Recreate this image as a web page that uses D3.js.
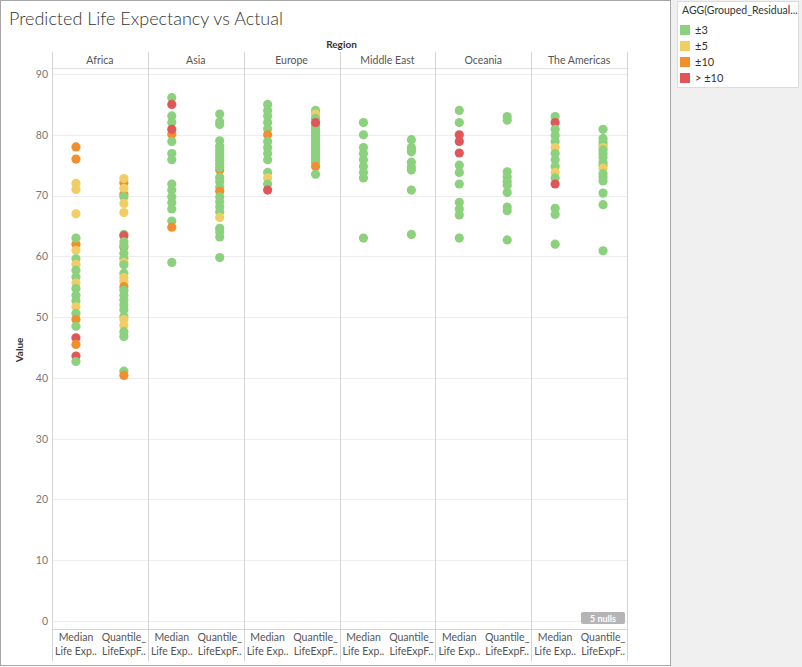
<!DOCTYPE html>
<html>
<head>
<meta charset="utf-8">
<script src="https://cdn.jsdelivr.net/npm/d3@7"></script>
<style>
  body { margin: 0; background: #fff; }
  svg { display: block; font-family: Lato, "Open Sans", sans-serif; }
</style>
</head>
<body>
<svg id="chart" width="802" height="667"></svg>
<script>
// groups: 0 = ±3, 1 = ±5, 2 = ±10, 3 = > ±10
const groups = ["±3", "±5", "±10", "> ±10"];
const groupColors = ["#8cd17d", "#f1ce63", "#f28e2b", "#e15759"];

const regions = ["Africa", "Asia", "Europe", "Middle East", "Oceania", "The Americas"];
const measures = ["Median", "Quantile"];
const measureLabels = [["Median", "Life Exp.."], ["Quantile_", "LifeExpF.."]];
const yTicks = [0, 10, 20, 30, 40, 50, 60, 70, 80, 90];

// [value, group]
const africaMedian = [[78,2],[76,2],[72,1],[71,1],[67,1],[62,2],[63,0],[61,1],[59.6,0],[58.7,1],[57.7,0],
  [56.6,0],[55.6,1],[54.7,0],[53.6,0],[52.7,0],[51.7,1],[50.6,0],[49.6,2],[48.5,0],[46.6,3],[45.5,2],[43.6,3],[42.7,0]];
const africaQuantile = [[72.1,2],[72.8,1],[70.2,2],[71.2,1],[69.8,0],[68.7,1],[67.2,1],[63.6,0],[63.4,3],[62.4,0],
  [61.5,2],[61.8,0],[60.5,0],[59.7,0],[59,1],[58.6,0],[57.2,0],[56.5,1],[55.8,1],[55,2],[54.4,0],[53.6,0],[52.8,0],
  [52,0],[51.2,0],[50.1,0],[49.6,1],[48.6,1],[47.6,0],[46.8,0],[41.1,0],[40.4,2]];
const asiaMedian = [[86.1,0],[85,3],[83.1,0],[82,0],[80.1,2],[80.9,3],[78.9,0],[76.9,0],[75.9,0],[71.9,0],[70.9,0],
  [69.8,0],[68.8,0],[67.8,0],[65.8,0],[64.8,2],[59,0]];
const asiaQuantile = [[83.4,0],[82.1,0],[81.7,0],[79,0],[78.1,0],[77.5,0],[76.9,0],[76.4,0],[75.8,0],[75.2,0],
  [74.2,2],[74.6,0],[73,0],[72.3,0],[71.4,0],[70.7,2],[69.8,0],[69,0],[68.1,0],[67.3,0],[66.4,1],[64.6,0],[64,0],
  [63.2,0],[59.8,0]];
const europeMedian = [[85,0],[84,0],[83.1,0],[82,0],[81,0],[80,2],[78.9,0],[77.9,0],[76.9,0],[75.9,0],[73.8,0],
  [72.9,1],[71.9,0],[70.9,3]];
const europeQuantile = [[84,0],[83.4,1],[82.7,0],[81.5,0],[81,0],[80.5,0],[80,0],[79.5,0],[79,0],[78.5,0],[78,0],
  [77.5,0],[77,0],[76.5,0],[76,0],[75.5,0],[82,3],[74.8,2],[73.5,0]];
const middleEastMedian = [[82,0],[80,0],[77.9,0],[76.9,0],[75.9,0],[74.8,0],[73.8,0],[72.9,0],[63,0]];
const middleEastQuantile = [[79.2,0],[77.9,0],[77.5,0],[77.2,0],[75.5,0],[74.7,0],[74.2,0],[70.9,0],[63.6,0]];
const oceaniaMedian = [[84,0],[82,0],[80,3],[78.9,3],[77,3],[75,0],[73.8,0],[71.9,0],[68.9,0],[67.8,0],[66.8,0],[63,0]];
const oceaniaQuantile = [[83,0],[82.4,0],[73.9,0],[73.1,0],[72.3,0],[71.7,0],[70.5,0],[68.1,0],[67.5,0],[62.7,0]];
const americasMedian = [[83,0],[82,3],[80.9,0],[79.9,0],[78.9,0],[77.9,1],[76.9,0],[75.9,0],[74.8,0],[73.8,1],
  [72.9,0],[71.9,3],[67.9,0],[66.9,0],[62,0]];
const americasQuantile = [[80.9,0],[79.4,0],[78.8,0],[78.3,0],[77.9,1],[77.5,0],[76.9,0],[76.3,0],[75.5,0],[75,0],
  [74.5,1],[73.6,0],[73,0],[72.4,0],[70.4,0],[68.5,0],[60.9,0]];

const columns = [
  ["Africa", africaMedian, africaQuantile],
  ["Asia", asiaMedian, asiaQuantile],
  ["Europe", europeMedian, europeQuantile],
  ["Middle East", middleEastMedian, middleEastQuantile],
  ["Oceania", oceaniaMedian, oceaniaQuantile],
  ["The Americas", americasMedian, americasQuantile]
];

const svg = d3.select("#chart");

const left = 52, right = 627;
const plotTop = 68, plotBottom = 629;

const x = d3.scaleBand().domain(regions).range([left, right]);
const xi = d3.scaleBand().domain(measures).range([0, x.bandwidth()]);
const y = d3.scaleLinear().domain([0, 90]).range([621, 74]);

// legend panel background
svg.append("rect").attr("x", 670).attr("y", 0).attr("width", 132).attr("height", 667).attr("fill", "#f0f0f0");
svg.append("rect").attr("x", 0.5).attr("y", 0.5).attr("width", 670).attr("height", 665)
  .attr("fill", "#fff").attr("stroke", "#a6a6a6");

// title
svg.append("text").attr("x", 9).attr("y", 25).attr("fill", "#333").attr("font-size", 18)
  .attr("font-weight", 300).text("Predicted Life Expectancy vs Actual");

svg.append("text").attr("x", (left + right) / 2 + 2).attr("y", 48).attr("text-anchor", "middle")
  .attr("font-size", 10).attr("font-weight", 700).attr("fill", "#333").text("Region");

// gridlines
svg.append("g").selectAll("line").data(yTicks).join("line")
  .attr("x1", left).attr("x2", right)
  .attr("y1", d => Math.round(y(d)) + 0.5).attr("y2", d => Math.round(y(d)) + 0.5)
  .attr("stroke", "#ededed");

svg.append("line").attr("x1", left).attr("x2", right).attr("y1", plotTop + 0.5).attr("y2", plotTop + 0.5)
  .attr("stroke", "#e0e0e0");
svg.append("line").attr("x1", left).attr("x2", right).attr("y1", plotBottom + 0.5).attr("y2", plotBottom + 0.5)
  .attr("stroke", "#d4d4d4");

// panel separators
svg.append("g").selectAll("line").data(regions.map(r => x(r)).concat([right])).join("line")
  .attr("x1", d => Math.round(d) + 0.5).attr("x2", d => Math.round(d) + 0.5)
  .attr("y1", 52).attr("y2", 661)
  .attr("stroke", "#d4d4d4");

// region headers
svg.append("g").selectAll("text").data(regions).join("text")
  .attr("x", d => x(d) + x.bandwidth() / 2).attr("y", 64)
  .attr("text-anchor", "middle").attr("font-size", 10.5).attr("fill", "#555")
  .text(d => d);

// y axis
const yAxis = svg.append("g").attr("transform", `translate(${left - 4},0)`)
  .call(d3.axisLeft(y).tickValues(yTicks).tickSize(0).tickPadding(0));
yAxis.select(".domain").remove();
yAxis.selectAll("text").attr("font-size", 10.5).attr("fill", "#777").attr("font-family", "Lato, 'Open Sans', sans-serif");

svg.append("text").attr("transform", "translate(23,350) rotate(-90)").attr("text-anchor", "middle")
  .attr("font-size", 10).attr("font-weight", 700).attr("fill", "#333").text("Value");

// bottom labels
const bottom = svg.append("g");
regions.forEach(r => {
  measures.forEach((m, i) => {
    const cx = x(r) + xi(m) + xi.bandwidth() / 2;
    const t = bottom.append("text").attr("text-anchor", "middle").attr("font-size", 10.5).attr("fill", "#555");
    t.append("tspan").attr("x", cx).attr("y", 641).text(measureLabels[i][0]);
    t.append("tspan").attr("x", cx).attr("y", 655).text(measureLabels[i][1]);
  });
});

// dots, drawn in data order
const dots = [];
columns.forEach(([r, med, qua]) => {
  med.forEach(([v, g]) => dots.push({ r, m: "Median", v, g }));
  qua.forEach(([v, g]) => dots.push({ r, m: "Quantile", v, g }));
});

svg.append("g").selectAll("circle").data(dots).join("circle")
  .attr("cx", d => x(d.r) + xi(d.m) + xi.bandwidth() / 2)
  .attr("cy", d => y(d.v))
  .attr("r", 4.6)
  .attr("fill", d => groupColors[d.g]);

// nulls badge
svg.append("rect").attr("x", 581).attr("y", 612).attr("width", 44).attr("height", 12).attr("rx", 2)
  .attr("fill", "#b5b5b5");
svg.append("text").attr("x", 603).attr("y", 621.5).attr("text-anchor", "middle").attr("font-size", 9)
  .attr("font-weight", 700).attr("fill", "#fff").text("5 nulls");

// legend
const lg = svg.append("g");
lg.append("rect").attr("x", 677.5).attr("y", 1.5).attr("width", 121).attr("height", 86)
  .attr("fill", "#fff").attr("stroke", "#dcdcdc");
lg.append("text").attr("x", 682).attr("y", 14).attr("font-size", 10.5).attr("fill", "#333")
  .text("AGG(Grouped_Residual...");
lg.selectAll(".sw").data(groups).join("rect").attr("class", "sw")
  .attr("x", 680).attr("y", (d, i) => 25 + i * 16).attr("width", 10).attr("height", 10)
  .attr("fill", (d, i) => groupColors[i]);
lg.selectAll(".lb").data(groups).join("text").attr("class", "lb")
  .attr("x", 695).attr("y", (d, i) => 34 + i * 16).attr("font-size", 11).attr("fill", "#333")
  .text(d => d);
</script>
</body>
</html>
